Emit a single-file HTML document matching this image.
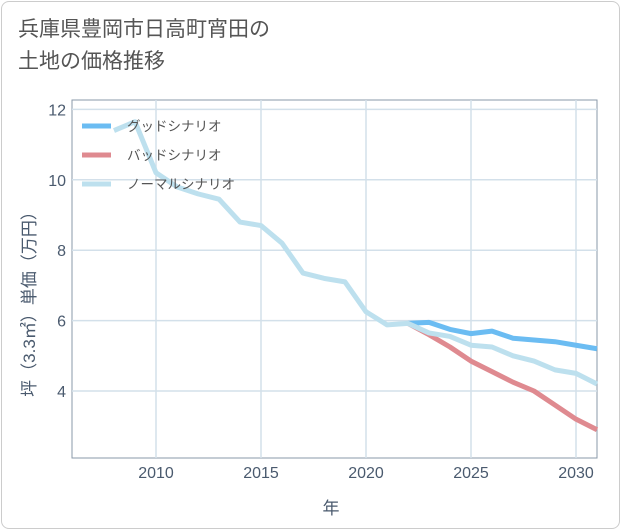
<!DOCTYPE html>
<html><head><meta charset="utf-8"><style>
body{margin:0;background:#fff;font-family:"Liberation Sans","Noto Sans CJK JP",sans-serif;}
.card{position:absolute;left:1px;top:1px;width:617px;height:526px;border:1px solid #ccc;border-radius:8px;background:#fff}
.title{position:absolute;left:18px;top:14px;font-size:21px;line-height:32px;color:#555;}
</style></head><body>
<div class="card"></div>
<div class="title">兵庫県豊岡市日高町宵田の<br>土地の価格推移</div>
<svg id="chart" width="621" height="530" style="position:absolute;left:0;top:0"></svg>
<script>
const years=[2008,2009,2010,2011,2012,2013,2014,2015,2016,2017,2018,2019,2020,2021,2022,2023,2024,2025,2026,2027,2028,2029,2030,2031];
const normal=[11.4,11.65,10.2,9.8,9.6,9.45,8.8,8.7,8.2,7.35,7.2,7.1,6.25,5.88,5.92,5.65,5.55,5.3,5.25,5.0,4.85,4.6,4.5,4.2];
const goodYears=[2022,2023,2024,2025,2026,2027,2028,2029,2030,2031];
const good=[5.92,5.95,5.75,5.63,5.7,5.5,5.45,5.4,5.3,5.2];
const bad=[5.92,5.6,5.25,4.85,4.55,4.25,4.0,3.6,3.2,2.9];
const xTicks=[2010,2015,2020,2025,2030];
const yTicks=[4,6,8,10,12];
const L=72,R=597,T=100,B=458;
const X=y=>156+(y-2010)*21;
const Y=v=>391-(v-4)*35.2;
const NS="http://www.w3.org/2000/svg";
const svg=document.getElementById('chart');
function mk(t,a){const e=document.createElementNS(NS,t);for(const k in a)e.setAttribute(k,a[k]);svg.appendChild(e);return e;}
let e;
e=mk('rect',{x:L,y:T,width:R-L,height:B-T,fill:'#fff',stroke:'#8a99a8','stroke-width':1});


xTicks.forEach(t=>{
 e=mk('line',{x1:X(t),x2:X(t),y1:T,y2:B,stroke:'#d3e0ea','stroke-width':1.5});
 
 
 e=mk('text',{x:X(t),y:B+20,'text-anchor':'middle','font-size':16,fill:'#4a5a6e'});e.textContent=t;
 
 
});
yTicks.forEach(t=>{
 e=mk('line',{x1:L,x2:R,y1:Y(t),y2:Y(t),stroke:'#d3e0ea','stroke-width':1.5});
 
 
 e=mk('text',{x:L-6,y:Y(t)+6,'text-anchor':'end','font-size':16,fill:'#4a5a6e'});e.textContent=t;
 
 
});
function line(xs,vs,c,name){
 e=mk('polyline',{points:xs.map((y,i)=>X(y)+','+Y(vs[i])).join(' '),fill:'none',stroke:c,'stroke-width':5,'stroke-linejoin':'round'});
 
 
}
line(goodYears,good,'#6bbcf2','good-scenario-line');
line(goodYears,bad,'#df8a90','bad-scenario-line');
line(years,normal,'#bde0ee','normal-scenario-line');
const leg=[['グッドシナリオ','#6bbcf2'],['バッドシナリオ','#df8a90'],['ノーマルシナリオ','#bde0ee']];
leg.forEach((l,i)=>{
 const y=126+i*29;
 e=mk('line',{x1:82,x2:111,y1:y,y2:y,stroke:l[1],'stroke-width':5});
 
 
 e=mk('text',{x:127,y:y+5,'font-size':13.5,fill:'#555'});e.textContent=l[0];
 
 
});
e=mk('text',{x:331,y:514,'text-anchor':'middle','font-size':17,fill:'#4a5a6e'});e.textContent='年';


e=mk('text',{x:0,y:0,'text-anchor':'middle','font-size':17,fill:'#4a5a6e',transform:'translate(35,300) rotate(-90)'});e.textContent='坪（3.3㎡）単価（万円）';


</script>
</body></html>
